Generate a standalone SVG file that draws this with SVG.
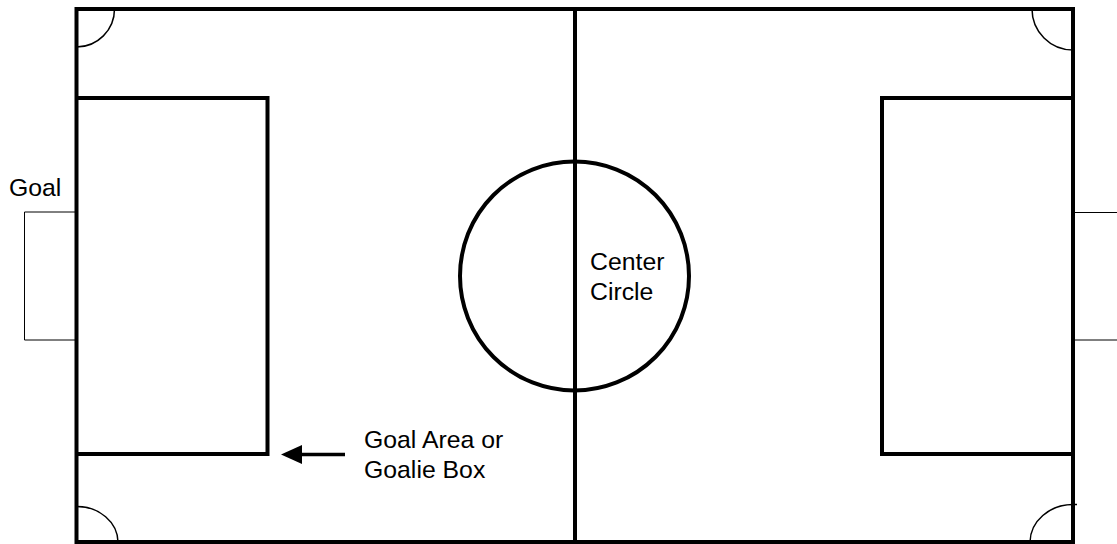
<svg xmlns="http://www.w3.org/2000/svg" width="1117" height="544" viewBox="0 0 1117 544">
<style>
.thick{fill:none;stroke:#000;stroke-width:4}
.thin{fill:none;stroke:#000;stroke-width:1.5}
.goal{fill:none;stroke:#000;stroke-width:1}
.lbl{font-family:"Liberation Sans",Arial,sans-serif;font-size:24.8px;fill:#000}
</style>
<rect width="1117" height="544" fill="#fff"/>
<g id="field">
<rect class="thick" x="76.5" y="9" width="996.5" height="533"/>
<line class="thick" x1="575" y1="9" x2="575" y2="542"/>
</g>
<g id="center-circle">
<circle class="thick" cx="574.5" cy="276" r="114.5"/>
<text class="lbl" x="590" y="270">Center</text>
<text class="lbl" x="590" y="300">Circle</text>
</g>
<g id="corners">
<path class="thin" d="M114.5,9 A38,38 0 0 1 76.5,47"/>
<path class="thin" d="M1032,9 A41,41 0 0 0 1073,50"/>
<path class="thin" d="M76.5,506.5 A41,36 0 0 1 118,542"/>
<path class="thin" d="M1030,542 A43,38 0 0 1 1073,504.5 L1077,504.5"/>
</g>
<g id="left-goal-area">
<polyline class="thick" points="76.5,98 267.5,98 267.5,454 76.5,454"/>
</g>
<g id="right-goal-area">
<polyline class="thick" points="1073,98 882,98 882,454 1073,454"/>
</g>
<g id="left-goal">
<polyline class="goal" points="75,212 24.5,212 24.5,340 75,340"/>
<text class="lbl" x="9" y="196">Goal</text>
</g>
<g id="right-goal">
<line class="goal" x1="1075" y1="212.5" x2="1117" y2="212.5"/>
<line class="goal" x1="1075" y1="340" x2="1117" y2="340"/>
</g>
<g id="connectors">
<line x1="345" y1="454.5" x2="298" y2="454.5" stroke="#000" stroke-width="3.5"/>
<polygon points="281,454.5 302,445 302,464" fill="#000"/>
</g>
<g id="goal-area-label">
<text class="lbl" x="364" y="448">Goal Area or</text>
<text class="lbl" x="364" y="478">Goalie Box</text>
</g>
</svg>
